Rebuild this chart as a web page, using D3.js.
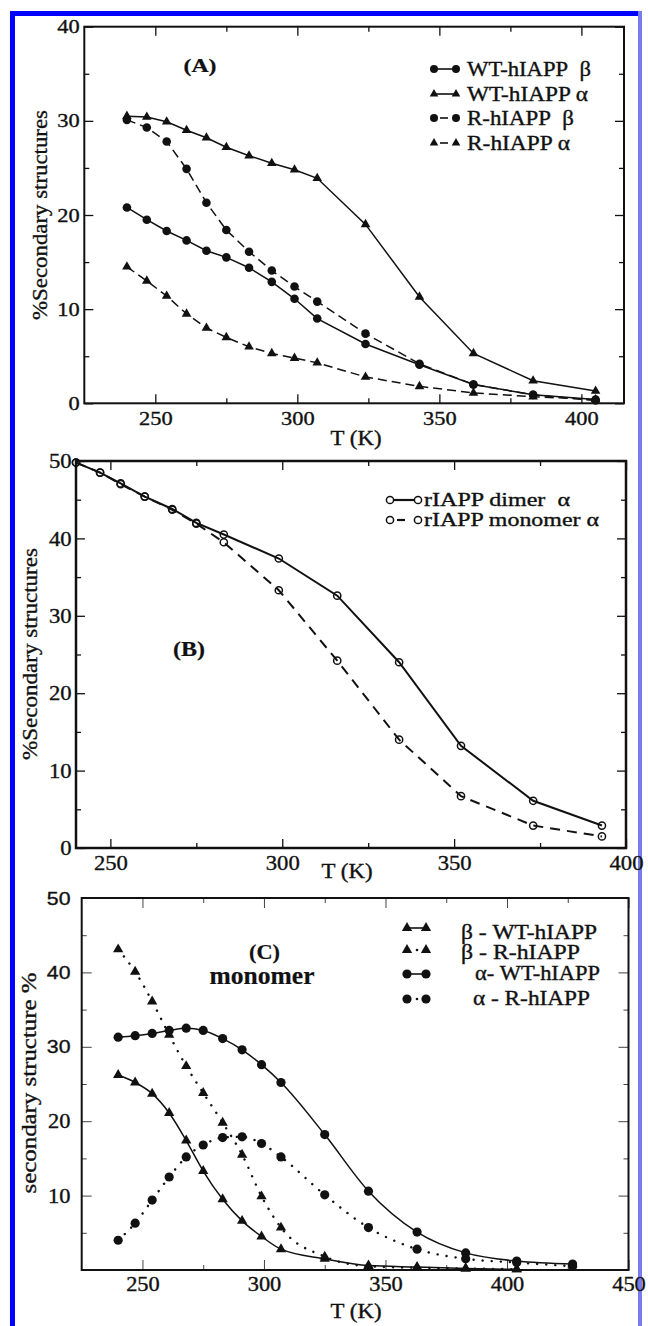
<!DOCTYPE html>
<html><head><meta charset="utf-8">
<script src="https://cdn.jsdelivr.net/npm/d3@7"></script>
<style>body{margin:0;background:#fff;} svg{display:block;} text{font-family:"Liberation Serif","Times New Roman",serif;}</style>
</head><body>
<svg id="c" width="648" height="1326"></svg>
<script>
// ---------- Panel A data ----------
const tempsA   = [240,247,254,261,268,275,283,291,299,307,324,343,362,383,405];
const wtBetaA  = [20.8,19.5,18.3,17.3,16.2,15.5,14.4,12.9,11.1,9.0,6.3,4.1,2.0,0.9,0.4];
const wtAlphaA = [30.5,30.4,29.9,29.0,28.2,27.2,26.3,25.5,24.8,23.9,19.0,11.3,5.3,2.4,1.3];
const rBetaA   = [30.1,29.3,27.8,24.9,21.3,18.4,16.1,14.1,12.4,10.8,7.4,4.2,2.0,0.9,0.3];
const rAlphaA  = [14.5,13.0,11.4,9.5,8.0,7.0,6.0,5.3,4.8,4.3,2.8,1.8,1.1,0.7,0.4];
const legendA  = ["WT-hIAPP\u00a0\u00a0β","WT-hIAPP α","R-hIAPP\u00a0\u00a0β","R-hIAPP α"];
const xTicksA = [250,300,350,400], yTicksA = [0,10,20,30,40];

// ---------- Panel B data ----------
const tempsB      = [240,247,253,260,268,275,283,299,316,334,352,373,393];
const dimerAlphaB = [49.8,48.5,47.1,45.4,43.8,42.0,40.5,37.4,32.6,24.0,13.2,6.1,2.9];
const monoAlphaB  = [49.8,48.5,47.0,45.4,43.7,41.9,39.5,33.3,24.2,14.0,6.7,2.9,1.5];
const legendB = ["rIAPP dimer\u00a0\u00a0α","rIAPP monomer α"];
const xTicksB = [250,300,350,400], yTicksB = [0,10,20,30,40,50];

// ---------- Panel C data ----------
const tempsC   = [240,247,254,261,268,275,283,291,299,307,325,343,363,383,404,427];
const betaWTC  = [26.2,25.2,23.7,21.1,17.4,13.3,9.5,6.6,4.5,2.8,1.5,0.6,0.4,0.2,0.1,null];
const betaRC   = [43.1,40.1,36.1,31.6,27.4,23.8,19.8,15.5,9.9,5.7,1.8,0.5,0.3,0.2,0.1,null];
const alphaWTC = [31.3,31.5,31.8,32.2,32.5,32.2,31.1,29.6,27.6,25.2,18.2,10.6,5.1,2.3,1.2,0.8];
const alphaRC  = [4.0,6.3,9.4,12.5,15.2,16.8,17.8,17.9,17.0,15.2,10.1,5.7,2.8,1.5,1.0,0.5];
const legendC = ["β - WT-hIAPP","β - R-hIAPP","α- WT-hIAPP","α - R-hIAPP"];
const xTicksC = [250,300,350,400,450], yTicksC = [10,20,30,40,50];

const SERIF = '"Liberation Serif","Times New Roman",serif';
const SANS  = '"Liberation Sans",Arial,sans-serif';
const INK = '#111';
const svg = d3.select('#c');

// page border
svg.append('rect').attr('x',10).attr('y',11).attr('width',5).attr('height',1315).attr('fill','#0000ff');
svg.append('rect').attr('x',10).attr('y',11).attr('width',632).attr('height',5).attr('fill','#0000ff');
svg.append('rect').attr('x',638).attr('y',11).attr('width',4).attr('height',1315).attr('fill','#7b7bf0');

function ink(t, w) { return t.attr('fill', INK).attr('stroke', INK).attr('stroke-width', w == null ? 0.35 : w); }

function txt(x, y, s, o = {}) {
  const t = svg.append('text')
    .attr('transform', `translate(${x},${y})` + (o.rot ? ` rotate(${o.rot})` : ''))
    .style('font-family', o.ff || SERIF).style('font-size', (o.fs || 20) + 'px')
    .style('font-weight', o.fw || 'normal').attr('text-anchor', o.anchor || 'start')
    .text(s);
  ink(t, o.fw === 'bold' ? 0.2 : 0.35);
  if (o.len) t.attr('textLength', o.len).attr('lengthAdjust', 'spacingAndGlyphs');
  return t;
}

function axes(x, y, o) {
  const [x0, x1] = x.range(), [y0, y1] = y.range();
  const g = svg.append('g');
  const mk = (axis, vals, size, fmt, tr, pad) => {
    const a = g.append('g').attr('transform', tr)
      .call(axis.tickValues(vals).tickSizeInner(-size).tickSizeOuter(0).tickPadding(pad || 3).tickFormat(fmt));
    a.select('.domain').remove();
    a.selectAll('line').attr('stroke', o.tickColor).attr('stroke-width', o.tw);
    return a;
  };
  const none = () => '';
  const bx = mk(d3.axisBottom(x), o.xMajor, o.maj, d3.format('d'), `translate(0,${y0})`, o.xpad);
  mk(d3.axisBottom(x), o.xMinor, o.min, none, `translate(0,${y0})`);
  mk(d3.axisTop(x), o.xMajor, o.maj, none, `translate(0,${y1})`);
  mk(d3.axisTop(x), o.xMinor, o.min, none, `translate(0,${y1})`);
  const ly = mk(d3.axisLeft(y), o.yMajor, o.maj, d3.format('d'), `translate(${x0},0)`, o.ypad);
  mk(d3.axisLeft(y), o.yMinor, o.min, none, `translate(${x0},0)`);
  mk(d3.axisRight(y), o.yMajor, o.maj, none, `translate(${x1},0)`);
  mk(d3.axisRight(y), o.yMinor, o.min, none, `translate(${x1},0)`);
  [bx, ly].forEach(a => a.attr('font-family', null).attr('font-size', null));
  ink(bx.selectAll('text').style('font-family', SERIF).style('font-size', o.fs + 'px')
    .attr('transform', `scale(${o.sx},1)`));
  ink(ly.selectAll('text').style('font-family', d => (o.ySans && o.ySans.includes(d)) ? SANS : SERIF)
    .style('font-size', d => ((o.ySans && o.ySans.includes(d)) ? o.fs - 1 : o.fs) + 'px')
    .attr('transform', `scale(${o.sx},1)`));
  svg.append('rect').attr('x', x0).attr('y', y1).attr('width', x1 - x0).attr('height', y0 - y1)
    .attr('fill', 'none').attr('stroke', INK).attr('stroke-width', o.fw);
}

function tri(sel, size) {
  return sel.append('path').attr('d', d3.symbol(d3.symbolTriangle, size)()).attr('fill', INK);
}

function series(x, y, temps, vals, o) {
  const pts = temps.map((t, i) => ({ t, v: vals[i] })).filter(d => d.v != null);
  const line = d3.line().x(d => x(d.t)).y(d => y(d.v)).curve(o.curve || d3.curveLinear);
  const p = svg.append('path').attr('d', line(pts)).attr('fill', 'none')
    .attr('stroke', INK).attr('stroke-width', o.lw || 1.5);
  if (o.dash) p.attr('stroke-dasharray', o.dash);
  if (o.cap) p.attr('stroke-linecap', o.cap);
  const g = svg.append('g');
  pts.forEach(d => {
    const m = g.append('g').attr('transform', `translate(${x(d.t)},${y(d.v)})`);
    if (o.marker === 'circle') m.append('circle').attr('r', o.r || 4.3).attr('fill', INK);
    else if (o.marker === 'open') m.append('circle').attr('r', o.r || 3.6).attr('fill', 'none')
      .attr('stroke', INK).attr('stroke-width', 1.5);
    else tri(m, o.size || 42);
  });
}

// ================= Panel A =================
{
  const x = d3.scaleLinear().domain([225, 415]).range([84.3, 624]);
  const y = d3.scaleLinear().domain([0, 40]).range([403.3, 26.7]);
  axes(x, y, { xMajor: xTicksA, xMinor: [275, 325, 375],
    yMajor: yTicksA, yMinor: [5, 15, 25, 35], maj: 9, min: 5, tw: 1.3, tickColor: INK,
    fw: 2, fs: 19, sx: 1.18, xpad: 8, ypad: 4 });
  series(x, y, tempsA, wtAlphaA, { marker: 'tri', size: 40 });
  series(x, y, tempsA, wtBetaA, { marker: 'circle', r: 4.3 });
  series(x, y, tempsA, rBetaA, { marker: 'circle', r: 4.3, dash: '9,5' });
  series(x, y, tempsA, rAlphaA, { marker: 'tri', size: 40, dash: '9,5' });

  const rows = [69, 94, 118, 143];
  const kinds = [['circle', null], ['tri', null], ['circle', '5,3'], ['tri', '5,3']];
  rows.forEach((ry, i) => {
    const [k, dash] = kinds[i];
    if (dash) svg.append('line').attr('x1', 440).attr('x2', 448).attr('y1', ry).attr('y2', ry)
      .attr('stroke', INK).attr('stroke-width', 1.6);
    else svg.append('line').attr('x1', 434).attr('x2', 456).attr('y1', ry).attr('y2', ry)
      .attr('stroke', INK).attr('stroke-width', 1.6);
    [434, 456].forEach(cx => {
      const m = svg.append('g').attr('transform', `translate(${cx},${ry})`);
      if (k === 'circle') m.append('circle').attr('r', 4).attr('fill', INK);
      else tri(m, 32);
    });
  });
  const lensA = [124, 121, 107, 103];
  legendA.forEach((s, i) => txt(467, rows[i] + 6.6, s, { fs: 20, len: lensA[i] }));
  txt(200, 72, '(A)', { fs: 19, fw: 'bold', anchor: 'middle', len: 33 });
  txt(356, 445, 'T (K)', { fs: 20, anchor: 'middle', len: 51 });
  txt(47, 215, '%Secondary structures', { fs: 22, anchor: 'middle', rot: -90, len: 210 });
}

// ================= Panel B =================
{
  const x = d3.scaleLinear().domain([240, 400]).range([76, 626]);
  const y = d3.scaleLinear().domain([0, 50]).range([848, 461]);
  axes(x, y, { xMajor: xTicksB, xMinor: [275, 325, 375],
    yMajor: yTicksB, yMinor: [5, 15, 25, 35, 45], maj: 9, min: 5, tw: 1.3, tickColor: INK,
    fw: 2.5, fs: 21, sx: 1.08, xpad: 7, ypad: 4 });
  series(x, y, tempsB, dimerAlphaB, { marker: 'open', r: 3.6, lw: 2 });
  series(x, y, tempsB, monoAlphaB, { marker: 'open', r: 3.6, lw: 2, dash: '10,7' });

  const rows = [500, 520];
  svg.append('line').attr('x1', 390).attr('x2', 418).attr('y1', rows[0]).attr('y2', rows[0])
    .attr('stroke', INK).attr('stroke-width', 2.2);
  svg.append('line').attr('x1', 397).attr('x2', 405).attr('y1', rows[1]).attr('y2', rows[1])
    .attr('stroke', INK).attr('stroke-width', 2.2);
  rows.forEach(ry => [390, 418].forEach(cx => svg.append('circle').attr('cx', cx).attr('cy', ry)
    .attr('r', 3.6).attr('fill', '#fff').attr('stroke', INK).attr('stroke-width', 1.5)));
  const lensB = [146, 175];
  legendB.forEach((s, i) => txt(424, rows[i] + 6.2, s, { fs: 19, len: lensB[i] }));
  txt(189, 656, '(B)', { fs: 20, fw: 'bold', anchor: 'middle', len: 32 });
  txt(347, 878, 'T (K)', { fs: 20, anchor: 'middle', len: 51 });
  txt(36.5, 654, '%Secondary structures', { fs: 22, anchor: 'middle', rot: -90, len: 212 });
}

// ================= Panel C =================
{
  const x = d3.scaleLinear().domain([225, 450]).range([81.7, 628.5]);
  const y = d3.scaleLinear().domain([0, 50]).range([1270, 898]);
  axes(x, y, { xMajor: xTicksC, xMinor: [275, 325, 375, 425],
    yMajor: yTicksC, yMinor: [5, 15, 25, 35, 45], maj: 10, min: 5, tw: 1, tickColor: '#444',
    fw: 2, fs: 20, sx: 1.12, xpad: 7, ypad: 10, ySans: [30, 40, 50] });
  const sm = d3.curveMonotoneX;
  series(x, y, tempsC, alphaWTC, { marker: 'circle', r: 4.6, curve: sm });
  series(x, y, tempsC, betaWTC, { marker: 'tri', size: 46, curve: sm });
  series(x, y, tempsC, betaRC, { marker: 'tri', size: 46, curve: sm, dash: '0.1,9', cap: 'round', lw: 2.4 });
  series(x, y, tempsC, alphaRC, { marker: 'circle', r: 4.6, curve: sm, dash: '0.1,9', cap: 'round', lw: 2.4 });

  const rows = [928, 950, 974, 999];
  const kinds = ['tri', 'tri', 'circle', 'circle'];
  rows.forEach((ry, i) => {
    if (i % 2 === 0) svg.append('line').attr('x1', 407).attr('x2', 426).attr('y1', ry).attr('y2', ry)
      .attr('stroke', INK).attr('stroke-width', 1.6);
    else svg.append('circle').attr('cx', 417).attr('cy', ry).attr('r', 1.3).attr('fill', INK);
    [407, 426].forEach(cx => {
      const m = svg.append('g').attr('transform', `translate(${cx},${ry})`);
      if (kinds[i] === 'circle') m.append('circle').attr('r', 4.6).attr('fill', INK);
      else tri(m, 46);
    });
  });
  const txC = [[461, 938.6, 136], [461, 958.6, 119], [475, 979.6, 125], [473, 1004.6, 117]];
  legendC.forEach((s, i) => txt(txC[i][0], txC[i][1], s, { fs: 20, len: txC[i][2] }));
  txt(264.5, 958.5, '(C)', { fs: 20, fw: 'bold', anchor: 'middle', len: 31 });
  txt(262, 984, 'monomer', { fs: 26, fw: 'bold', anchor: 'middle', len: 105 });
  txt(356, 1318, 'T (K)', { fs: 20, anchor: 'middle', len: 51 });
  txt(36, 1083, 'secondary structure %', { fs: 22, anchor: 'middle', rot: -90, len: 221 });
}
</script>
</body></html>
